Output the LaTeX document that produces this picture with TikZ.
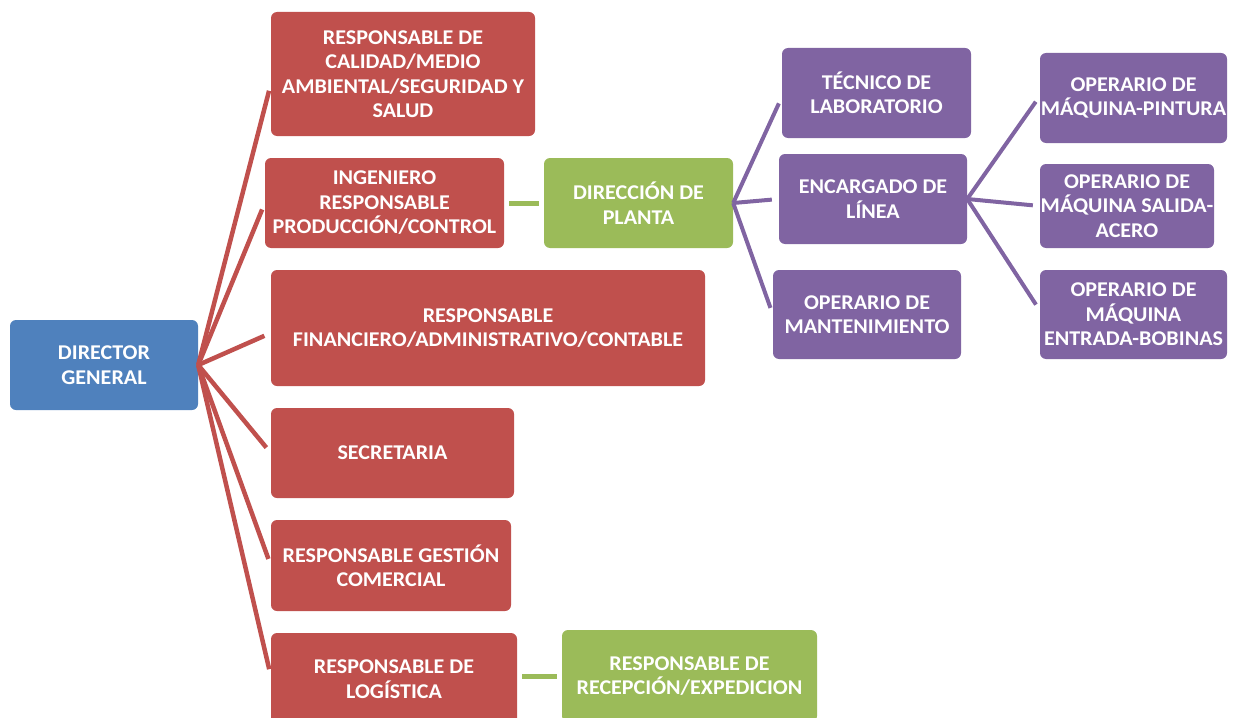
\documentclass[tikz,border=0pt]{standalone}
\usepackage{fontspec}
\setmainfont{Carlito}[FakeStretch=1.05]
\usetikzlibrary{calc}
\definecolor{cred}{HTML}{C0504D}
\definecolor{cblue}{HTML}{4F81BD}
\definecolor{cgreen}{HTML}{9BBB59}
\definecolor{cpurple}{HTML}{8064A2}
\tikzset{
  bx/.style={rounded corners=6pt, text=white, align=center, inner sep=0pt,
    font=\bfseries\fontsize{21}{24.5}\selectfont},
  rbox/.style={bx, fill=cred},
  gbox/.style={bx, fill=cgreen},
  pbox/.style={bx, fill=cpurple},
  bbox/.style={bx, fill=cblue},
  rline/.style={draw=cred, line width=4.5pt, shorten >=7pt},
  pline/.style={draw=cpurple, line width=4pt, shorten >=7pt},
  gline/.style={draw=cgreen, line width=5pt, shorten >=5pt, shorten <=5pt},
}
\begin{document}
\begin{tikzpicture}[x=1pt,y=-1pt]
\useasboundingbox (0,0) rectangle (1233,717);
% main nodes
\node[bbox, minimum width=188pt, minimum height=90pt] (dg) at (104,365) {DIRECTOR\\GENERAL};
\node[rbox, minimum width=264pt, minimum height=124pt] (cal) at (403,74) {RESPONSABLE DE\\CALIDAD/MEDIO\\AMBIENTAL/SEGURIDAD Y\\SALUD};
\node[rbox, minimum width=239pt, minimum height=90pt] (ing) at (384.5,203) {INGENIERO\\RESPONSABLE\\PRODUCCIÓN/CONTROL};
\node[rbox, minimum width=434pt, minimum height=116pt] (fin) at (488,328) {RESPONSABLE\\FINANCIERO/ADMINISTRATIVO/CONTABLE};
\node[rbox, minimum width=243pt, minimum height=90pt] (sec) at (392.5,453) {SECRETARIA};
\node[rbox, minimum width=240pt, minimum height=91pt] (com) at (391,565.5) {RESPONSABLE GESTIÓN\\COMERCIAL};
\node[rbox, minimum width=246pt, minimum height=92pt] (log) at (394,679) {RESPONSABLE DE\\LOGÍSTICA};
\node[gbox, minimum width=255pt, minimum height=92pt] (rec) at (689.5,676) {RESPONSABLE DE\\RECEPCIÓN/EXPEDICION};
\node[gbox, minimum width=189pt, minimum height=90pt] (dp) at (638.5,203) {DIRECCIÓN DE\\PLANTA};
\node[pbox, minimum width=189pt, minimum height=90pt] (tec) at (876.5,93) {TÉCNICO DE\\LABORATORIO};
\node[pbox, minimum width=188pt, minimum height=90pt] (enc) at (873,199) {ENCARGADO DE\\LÍNEA};
\node[pbox, minimum width=188pt, minimum height=89pt] (man) at (867,314.5) {OPERARIO DE\\MANTENIMIENTO};
\node[pbox, minimum width=187pt, minimum height=90pt] (op1) at (1133.5,98) {OPERARIO DE\\MÁQUINA-PINTURA};
\node[pbox, minimum width=174pt, minimum height=84pt] (op2) at (1127,206) {OPERARIO DE\\MÁQUINA SALIDA-\\ACERO};
\node[pbox, minimum width=187pt, minimum height=89pt] (op3) at (1133.5,314.5) {OPERARIO DE\\MÁQUINA\\ENTRADA-BOBINAS};
% red connectors
\draw[rline] (dg.east) -- ($(cal.west)+(0,10)$);
\draw[rline] (dg.east) -- (ing.west);
\draw[rline] (dg.east) -- ($(fin.west)+(0,5)$);
\draw[rline] (dg.east) -- (sec.west);
\draw[rline] (dg.east) -- (com.west);
\draw[rline] (dg.east) -- ($(log.west)+(0,-3)$);
% green connectors
\draw[gline] (ing.east) -- (dp.west);
\draw[gline] ($(log.east)+(0,-3)$) -- ($(rec.west)+(0,0)$);
% purple connectors
\draw[pline] (dp.east) -- ($(tec.west)+(0,4)$);
\draw[pline] (dp.east) -- (enc.west);
\draw[pline] (dp.east) -- (man.west);
\draw[pline] (enc.east) -- ($(op1.west)+(0,-2)$);
\draw[pline] (enc.east) -- (op2.west);
\draw[pline] (enc.east) -- ($(op3.west)+(0,-4)$);
\end{tikzpicture}
\end{document}
